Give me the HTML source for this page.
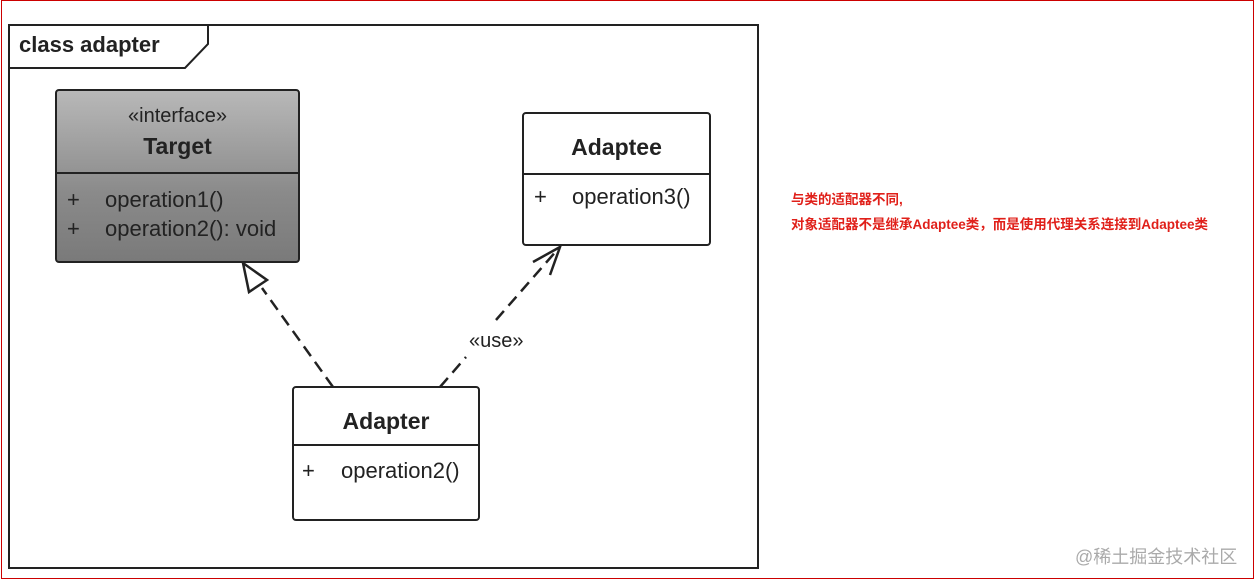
<!DOCTYPE html>
<html><head><meta charset="utf-8"><style>
body{margin:0;width:1256px;height:585px;background:#fff;position:relative;overflow:hidden;font-family:"Liberation Sans",Arial,sans-serif}
.abs{position:absolute}
.box{position:absolute;border:2px solid #222;border-radius:4px;background:#fff;box-sizing:border-box}
.t{font-size:22px;color:#222}
</style></head><body>
<div class="abs" style="left:1px;top:0;width:1251px;height:577px;border:1px solid #c00;"></div>
<div class="abs" style="left:8px;top:24px;width:751px;height:545px;border:2px solid #222;box-sizing:border-box"></div>
<svg class="abs" style="left:0;top:0" width="1256" height="585">
<polyline points="9,68 185,68 208,44 208,25" fill="none" stroke="#222" stroke-width="2"/>
<line x1="333" y1="387" x2="262" y2="288" stroke="#222" stroke-width="2.5" stroke-dasharray="12,7"/>
<polygon points="243,263 267,280 249,292" fill="#fff" stroke="#222" stroke-width="2.5"/>
<line x1="440" y1="387" x2="466" y2="357" stroke="#222" stroke-width="2.5" stroke-dasharray="12,7"/>
<line x1="496" y1="320" x2="558" y2="249" stroke="#222" stroke-width="2.5" stroke-dasharray="12,7"/>
<polyline points="533,262 560,247 550,275" fill="none" stroke="#222" stroke-width="2.5"/>
</svg>
<div class="abs" style="left:19px;top:32px;font-size:22px;font-weight:bold;color:#222">class adapter</div>
<div class="box" style="left:55px;top:89px;width:245px;height:174px;background:linear-gradient(#b8b8b8,#8a8a8a 60%,#7a7a7a)">
 <div class="abs t" style="left:0;width:241px;text-align:center;top:14px;font-size:20px">«interface»</div>
 <div class="abs t" style="left:0;width:241px;text-align:center;top:42px;font-weight:bold;font-size:23px">Target</div>
 <div class="abs" style="left:0;top:81px;width:241px;border-top:2px solid #222"></div>
 <div class="abs t" style="left:10px;top:96px">+</div><div class="abs t" style="left:48px;top:96px">operation1()</div>
 <div class="abs t" style="left:10px;top:125px">+</div><div class="abs t" style="left:48px;top:125px">operation2(): void</div>
</div>
<div class="box" style="left:522px;top:112px;width:189px;height:134px">
 <div class="abs t" style="left:0;width:185px;text-align:center;top:20px;font-weight:bold;font-size:23px">Adaptee</div>
 <div class="abs" style="left:0;top:59px;width:185px;border-top:2px solid #222"></div>
 <div class="abs t" style="left:10px;top:70px">+</div><div class="abs t" style="left:48px;top:70px">operation3()</div>
</div>
<div class="box" style="left:292px;top:386px;width:188px;height:135px">
 <div class="abs t" style="left:0;width:184px;text-align:center;top:20px;font-weight:bold;font-size:23px">Adapter</div>
 <div class="abs" style="left:0;top:56px;width:184px;border-top:2px solid #222"></div>
 <div class="abs t" style="left:8px;top:70px">+</div><div class="abs t" style="left:47px;top:70px">operation2()</div>
</div>
<div class="abs t" style="left:469px;top:330px;font-size:20px">«use»</div>
<div class="abs" style="left:791px;top:188px;font-size:13.5px;font-weight:bold;color:#e0201a;font-family:'Liberation Sans','Noto Sans CJK SC',sans-serif">与类的适配器不同,</div>
<div class="abs" style="left:791px;top:213px;font-size:13.5px;font-weight:bold;color:#e0201a;font-family:'Liberation Sans','Noto Sans CJK SC',sans-serif">对象适配器不是继承Adaptee类，而是使用代理关系连接到Adaptee类</div>
<div class="abs" style="left:1075px;top:543px;font-size:18px;color:#aaa;font-family:'Liberation Sans','Noto Sans CJK SC',sans-serif">@稀土掘金技术社区</div>
</body></html>
